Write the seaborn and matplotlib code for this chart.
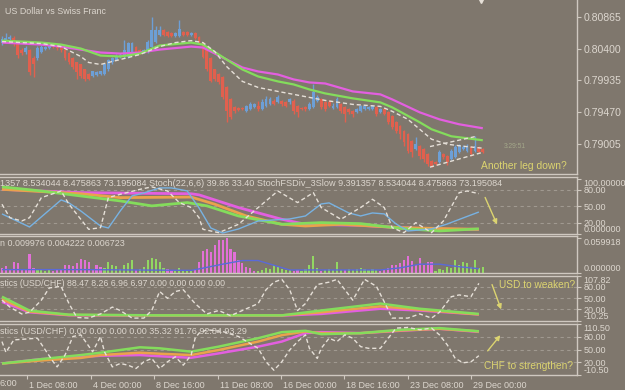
import numpy as np
import pandas as pd
import matplotlib
matplotlib.use("Agg")
import matplotlib.pyplot as plt
import matplotlib.transforms as mtransforms
import seaborn as sns

# ---------------- data (prices in points of 1e-5) ----------------
opens = [80487,80502,80545,80560,80502,80385,80356,80385,80269,80269,
         80356,80400,80415,80444,80429,80429,80385,80342,80269,80197,
         80168,80095,80022,79993,80008,80022,80022,80095,80197,80240,
         80284,80284,80284,80342,80429,80385,80356,80356,80429,80502,
         80603,80676,80647,80633,80589,80589,80647,80647,80603,80633,
         80574,80487,80385,80269,80095,80022,79979,79833,79659,79543,
         79528,79528,79485,79514,79543,79557,79514,79557,79586,79630,
         79615,79630,79615,79615,79630,79557,79528,79543,79514,79543,
         79630,79659,79615,79615,79528,79543,79586,79543,79514,79485,
         79470,79485,79514,79514,79514,79543,79470,79514,79470,79412,
         79325,79267,79194,79150,79049,78932,78976,78932,78860,78758,
         78744,78744,78860,78831,78787,78816,78889,78932,78903,78962,
         78903,78962,78932]
closes = [80545,80560,80574,80473,80313,80342,80415,80051,80168,80415,
          80429,80429,80444,80429,80415,80385,80269,80197,80124,80051,
          79993,79950,79950,80066,80051,80066,80168,80240,80269,80298,
          80313,80385,80487,80487,80356,80356,80385,80502,80676,80676,
          80676,80603,80589,80589,80633,80691,80603,80603,80633,80560,
          80502,80284,80095,79921,79950,79906,79688,79485,79397,79485,
          79499,79514,79557,79586,79586,79514,79615,79659,79659,79586,
          79688,79586,79557,79659,79485,79470,79514,79514,79586,79761,
          79688,79543,79514,79557,79557,79659,79485,79441,79470,79441,
          79514,79557,79557,79543,79557,79441,79514,79441,79325,79252,
          79194,79150,79034,78903,78889,79005,78831,78787,78715,78685,
          78715,78889,78816,78744,78903,78962,78976,78962,78976,78860,
          78976,78889,78889]
highs = [80589,80633,80603,80589,80516,80415,80444,80400,80298,80444,
         80458,80444,80458,80458,80444,80444,80400,80356,80284,80211,
         80182,80109,80037,80080,80066,80080,80182,80255,80284,80327,
         80342,80531,80502,80502,80444,80400,80400,80531,80865,80734,
         80734,80691,80662,80647,80647,80821,80662,80662,80647,80647,
         80589,80502,80400,80284,80109,80037,79993,79848,79674,79557,
         79543,79543,79572,79615,79601,79630,79659,79703,79688,79659,
         79717,79644,79630,79674,79659,79572,79543,79557,79615,79877,
         79717,79674,79630,79644,79601,79688,79601,79557,79528,79499,
         79528,79572,79572,79557,79572,79557,79528,79528,79485,79427,
         79339,79281,79209,79165,79063,79107,78991,78947,78874,78773,
         78758,78918,78874,78845,78932,78991,79005,78991,79005,78976,
         79121,78976,78947]
lows = [80458,80487,80516,80444,80269,80313,80327,80008,79979,80240,
        80342,80385,80400,80415,80385,80356,80240,80168,80095,79950,
        79964,79921,79935,79979,79993,80008,80008,80080,80182,80226,
        80269,80269,80269,80327,80327,80327,80342,80342,80415,80487,
        80589,80589,80574,80574,80574,80574,80589,80589,80589,80545,
        80487,80269,80066,79906,79921,79877,79659,79325,79368,79456,
        79485,79499,79470,79499,79528,79485,79499,79543,79572,79572,
        79601,79557,79543,79586,79441,79397,79499,79485,79499,79528,
        79615,79514,79485,79543,79514,79528,79456,79325,79441,79397,
        79456,79470,79499,79499,79499,79412,79456,79427,79296,79223,
        79165,79078,78976,78874,78816,78918,78787,78744,78685,78671,
        78700,78729,78787,78700,78773,78802,78874,78918,78889,78831,
        78889,78874,78874]

# moving averages (read at sample bars)
ma_slow_x = [0,5,10,15,20,25,30,35,40,48,51,57,61,65,70,74,78,82,89,96,99,106,111,116,122]
ma_slow = [80487,80473,80458,80429,80385,80342,80327,80342,80385,80429,80415,80240,80124,
           80066,80022,79950,79906,79891,79775,79732,79659,79470,79368,79296,79238]
ma_mid_x = [0,5,10,15,20,25,30,35,40,48,51,57,61,65,70,74,78,82,89,96,99,106,109,114,122]
ma_mid = [80516,80502,80487,80458,80400,80298,80284,80327,80444,80487,80458,80240,80095,
          79993,79921,79877,79804,79746,79674,79615,79543,79325,79223,79121,79063]
ma_fast_x = [0,5,10,15,20,22,25,30,35,40,44,48,51,54,57,61,65,70,74,78,82,89,96,99,103,106,109,113,117,122]
ma_fast = [80502,80487,80473,80429,80284,80197,80168,80240,80313,80429,80487,80516,80487,80356,
           80138,79921,79833,79775,79732,79688,79644,79586,79557,79485,79368,79223,79078,79005,78976,78947]
chan_up_x = [108.6, 120.5]
chan_up = [78971, 79122]
chan_lo_x = [108.6, 122.1]
chan_lo = [78671, 78889]

# stochastic panel
st_main_x = [0,7,15,17,20,25,27,30,33,36,40,43,47,50,53,56,60,65,73,77,81,83,86,88,91,94,97,100,103,109,113,117,121]
st_main = [36.4,12.7,61.8,56.4,41.8,14.5,10.9,41.8,69.1,74.5,83.6,83.6,78.2,47.3,10.9,1.8,9.1,
           23.6,27.3,32.7,54.5,56.4,45.5,38.2,32.7,38.2,36.4,18.2,5.5,9.1,18.2,29.1,39.9]
st_fast_x = [0,2,5,7,10,15,17,22,25,27,30,35,38,42,45,48,50,51,55,60,65,70,75,79,81,86,91,94,97,99,102,105,107,109,112,116,118,121]
st_fast = [54,29.6,23.6,29.6,66,78,54,8.5,11.5,66,72,81,85.5,78,57,48,29.6,8.5,2.4,17.6,48,78,57,
           75,48,26.7,48,63,48,11.5,2.4,20.6,11.5,2.4,23.6,75,78,73.2]
st_pink_x = [0,20,48,50,60,71,77,91,101,111,121]
st_pink = [81,75,73,71,48,26.7,17.6,15.8,11.5,8.5,8.5]
st_orange_x = [0,20,30,48,54,62,71,77,86,101,121]
st_orange = [81,73,66,67,54,32.7,17.6,14.5,17.6,11.5,8.5]
st_green_x = [0,10,20,30,38,47,52,60,71,81,91,101,111,121]
st_green = [85.5,78,69,60,51,57,51,32.7,17.6,20.6,18.8,10.3,5.5,9.4]

# histogram panel
hist = [0.0075,0.0113,0.0050,0.0188,0.0156,0.0063,0.0050,0.0313,0.0075,0.0050,
        0.0038,0.0031,0.0050,0.0025,0.0038,0.0063,0.0125,0.0138,0.0113,0.0156,
        0.0238,0.0219,0.0175,0.0063,0.0125,0.0094,0.0075,0.0188,0.0138,0.0113,
        0.0063,0.0138,0.0156,0.0219,0.0050,0.0063,0.0094,0.0219,0.0250,0.0238,
        0.0188,0.0075,0.0063,0.0050,0.0050,0.0075,0.0050,0.0038,0.0025,0.0063,
        0.0188,0.0375,0.0406,0.0344,0.0469,0.0550,0.0563,0.0599,0.0406,0.0344,
        0.0219,0.0156,0.0094,0.0075,0.0031,0.0019,0.0050,0.0075,0.0063,0.0138,
        0.0094,0.0063,0.0050,0.0038,0.0025,0.0038,0.0031,0.0063,0.0125,0.0281,
        0.0075,0.0031,0.0050,0.0063,0.0038,0.0175,0.0050,0.0038,0.0063,0.0050,
        0.0063,0.0075,0.0063,0.0050,0.0063,0.0038,0.0031,0.0050,0.0075,0.0125,
        0.0138,0.0156,0.0219,0.0281,0.0200,0.0138,0.0250,0.0138,0.0188,0.0175,
        0.0031,0.0063,0.0050,0.0094,0.0075,0.0219,0.0125,0.0188,0.0156,0.0094,
        0.0219,0.0075,0.0100]
hist_dir = list("PPPPPPPPPG" "GGGPPPPPPP" "PPPPPPGGGG" "GGGGPGGGGG" "GGPPGGGGGP"
                "PPPPPPPPPP" "PPPPPGGGGG" "GGGGPPGGGG" "GPGGGGGPGG" "GGGGGGPPPP"
                "PPPPPPPPPP" "GGGGGGGGGG" "GGG")
hist_sig_x = [0,20,48,50,56,61,65,69,73,81,96,101,106,111,116,121]
hist_sig = [0.0051,0.0051,0.0038,0.0063,0.0144,0.0206,0.0206,0.0125,0.0045,0.0045,0.0045,
            0.0081,0.0144,0.0144,0.0100,0.0067]

# USD panel
usd_dash_x = [0,2,5,7,10,12,15,17,19,22,25,28,30,33,36,38,40,42,44,46,49,52,55,58,61,65,67,69,71,
              73,75,77,80,83,85,87,89,92,95,97,99,103,106,109,111,114,116,119,121]
usd_dash = [44.5,26.3,8.3,12.6,44.5,76.5,80.8,35.5,-1,-2.6,8.3,26.3,17.3,-2.6,-2.6,17.3,67.2,49.2,
            67.2,71.8,35.5,8.3,17.3,3.6,17.3,35.5,71.8,91.7,99,71.8,17.3,35.5,85.5,91.7,99,71.8,
            44.5,99,80.8,39.9,-2.6,-2.6,8.3,-2.6,12.6,53.5,58.2,53.5,88.5]
usd_x = [0,7,17,40,71,81,96,106,121]
usd_green = [53.5,17,6.4,4.5,4.5,17.3,35.5,21.9,8.3]
usd_orange = [47,14.5,5.5,4.5,4.5,12.6,28.2,19.5,7.0]
usd_pink = [39.9,12.6,5,4,4,8.3,21.9,17.3,7.0]

# CHF panel
chf_dash_x = [0,1,3,9,11,13,14,16,18,20,23,25,26,28,30,32,34,36,38,40,42,44,46,48,49,50,52,56,60,
              65,67,69,71,73,75,77,78,80,81,83,85,87,89,91,93,96,98,100,103,106,109,111,113,115,117,119,121]
chf_dash = [68.8,43.2,72.8,76.8,48.8,20.8,8.8,36.8,80.8,84.8,44.8,80.8,44.8,8.8,16.8,12.8,4.8,20.8,
            28.8,4.8,20.8,32.8,12.8,36.8,76.8,88.8,96.8,92.8,80.8,52.8,20.8,0.8,20.8,48.8,68.8,84.8,
            52.8,28.8,52.8,76.8,68.8,84.8,76.8,56.8,52.8,52.8,76.8,100.8,102.4,96.8,100.8,84.8,60.8,
            28.8,18.4,20.8,35.3]
chf_x = [0,10,20,25,35,40,48,55,65,71,77,81,91,101,111,121]
chf_green = [16.8,27.2,36.8,42.4,55.2,52.8,44.8,56.8,76.8,91.2,94.4,86.4,88.8,96.8,100.8,93.3]
chf_orange = [16.8,24,30,36.8,42.4,40,36.8,48.8,68.8,84,92.8,88.8,88.8,95.2,99.2,92.8]
chf_pink = [16.8,27.2,32,35.2,36.8,34,30.4,40.8,56.8,68.8,88.8,91.2,88.8,94.4,99.2,91.8]

price_ticks = [0.80865, 0.80400, 0.79935, 0.79470, 0.79005]
x_tick_pos = [6.4, 22.5, 38.6, 54.7, 70.8, 86.8, 102.9, 118.9]
x_tick_labels = ["1 Dec 08:00", "4 Dec 00:00", "8 Dec 16:00", "11 Dec 08:00",
                 "16 Dec 00:00", "18 Dec 16:00", "23 Dec 08:00", "29 Dec 00:00"]

# ---------------- style ----------------
BG = "#7f776d"
FG = "#dcd6ce"
SPINE = "#cfc8c0"
GRID = "#a09990"
UP = "#6d9fd6"
DN = "#e1604e"
MAG = "#e35fe0"
GRN = "#84dc5c"
ORG = "#eaa24c"
BLU = "#78b2e2"
DASH = "#e6e0d8"
YEL = "#dcd470"
HPINK = "#e270d8"
HGRN = "#92d862"

sns.set_theme(style="dark", rc={"axes.facecolor": BG, "figure.facecolor": BG,
                                 "savefig.facecolor": BG, "axes.grid": False})
plt.rcParams["font.family"] = ["Liberation Sans", "DejaVu Sans"]

W, H = 625, 390
fig = plt.figure(figsize=(6.25, 3.9), dpi=100)


def rect(t, b):
    return [0, 1 - b / H, 577 / W, (b - t) / H]


ax1 = fig.add_axes(rect(0, 174))
ax2 = fig.add_axes(rect(177, 234))
ax3 = fig.add_axes(rect(236, 273))
ax4 = fig.add_axes(rect(276, 321))
ax5 = fig.add_axes(rect(324, 375))
axes = [ax1, ax2, ax3, ax4, ax5]

XL = (-0.5, 145.9)
for ax in axes:
    ax.set_facecolor(BG)
    ax.set_xlim(*XL)
    ax.spines["left"].set_visible(False)
    for s in ("top", "bottom", "right"):
        ax.spines[s].set_color(SPINE)
        ax.spines[s].set_linewidth(1.0)
    ax.tick_params(axis="y", which="both", left=False, labelleft=False, right=True,
                   labelright=True, direction="out", length=3, width=0.8,
                   color=SPINE, labelcolor=FG, pad=1.5)
    ax.tick_params(axis="x", bottom=False, labelbottom=False)
    ax.set_xlabel("")
    ax.set_ylabel("")
ax1.spines["top"].set_visible(False)

# ---------------- price panel ----------------
df = pd.DataFrame({"i": np.arange(len(opens)), "o": np.array(opens) / 1e5,
                   "c": np.array(closes) / 1e5, "h": np.array(highs) / 1e5,
                   "l": np.array(lows) / 1e5})
up = df["c"] >= df["o"]
cols = np.where(up, UP, DN)
ax1.vlines(df["i"], df["l"], df["h"], colors=cols, lw=1.0, zorder=2)
body = np.maximum((df["c"] - df["o"]).abs(), 0.00002)
ax1.bar(df["i"], body, bottom=np.minimum(df["o"], df["c"]), width=0.72,
        color=cols, linewidth=0, zorder=3)


def line(ax, xs, ys, color, lw, dashed=False, scale=1.0, z=4):
    sns.lineplot(x=np.asarray(xs, float), y=np.asarray(ys, float) / scale, ax=ax,
                 color=color, linewidth=lw, estimator=None, zorder=z)
    ln = ax.lines[-1]
    if dashed:
        ln.set_dashes([3, 2])
    ln.set_solid_capstyle("butt")
    return ln


line(ax1, ma_slow_x, ma_slow, MAG, 1.6, scale=1e5)
line(ax1, ma_mid_x, ma_mid, GRN, 1.6, scale=1e5)
line(ax1, ma_fast_x, ma_fast, DASH, 1.0, dashed=True, scale=1e5, z=5)
line(ax1, chan_up_x, chan_up, DASH, 1.0, dashed=True, scale=1e5, z=5)
line(ax1, chan_lo_x, chan_lo, DASH, 1.0, dashed=True, scale=1e5, z=5)

ax1.set_ylim(0.78571, 0.81108)
ax1.set_yticks(price_ticks)
ax1.set_yticklabels([f"{v:.5f}" for v in price_ticks])
ax1.tick_params(axis="y", labelsize=7.6)
ax1.plot([121.6], [0.81108], marker="v", color=DASH, ms=5, clip_on=False, zorder=6)
ax1.text(121.6, 0.78688, "Another leg down?", color=YEL, fontsize=7.4, va="center", ha="left")
ax1.text(127.2, 0.78979, "3:29:51", color="#a4a88a", fontsize=4.8, va="center", ha="left")


def osc_ticks(ax, vals, labels, size=6.5):
    ax.set_yticks(vals)
    ax.set_yticklabels(labels)
    ax.tick_params(axis="y", labelsize=size)
    tl = ax.get_yticklabels()
    tl[0].set_verticalalignment("top")
    tl[-1].set_verticalalignment("bottom")


def grid(ax):
    for v in (80, 50, 20):
        ax.axhline(v, color=GRID, lw=0.8, dashes=[3, 3], zorder=1)


# ---------------- stochastic panel ----------------
grid(ax2)
line(ax2, st_pink_x, st_pink, MAG, 2.0)
line(ax2, st_orange_x, st_orange, ORG, 2.0)
line(ax2, st_green_x, st_green, GRN, 2.0)
line(ax2, st_main_x, st_main, BLU, 1.0, z=5)
line(ax2, st_fast_x, st_fast, DASH, 1.0, dashed=True, z=5)
ax2.set_ylim(0, 103.4)
osc_ticks(ax2, [100, 80, 50, 20, 0], ["100.000000", "80.00", "50.00", "20.00", "0.000000"])
ax2.annotate("", xy=(125.9, 12.7), xytext=(122.3, 70.9),
             arrowprops=dict(arrowstyle="-|>", color=YEL, lw=1.0, mutation_scale=7),
             annotation_clip=False)

# ---------------- histogram panel ----------------
hcols = [HPINK if d == "P" else HGRN for d in hist_dir]
ax3.bar(np.arange(len(hist)), hist, width=0.55, color=hcols, linewidth=0, zorder=2)
line(ax3, hist_sig_x, hist_sig, "#5a6ad8", 1.0)
ax3.set_ylim(-0.0007, 0.0625)
osc_ticks(ax3, [0.059918, 0.0], ["0.059918", "0.000000"])

# ---------------- USD panel ----------------
grid(ax4)
line(ax4, usd_x, usd_pink, MAG, 1.8)
line(ax4, usd_x, usd_orange, ORG, 1.8)
line(ax4, usd_x, usd_green, GRN, 1.8)
line(ax4, usd_dash_x, usd_dash, DASH, 1.0, dashed=True, z=5)
ax4.set_ylim(-10.26, 107.83)
osc_ticks(ax4, [107.82, 80, 50, 20, -10.25], ["107.82", "80.00", "50.00", "20.00", "-10.25"])
ax4.annotate("", xy=(126.9, 13.4), xytext=(124.1, 92.1),
             arrowprops=dict(arrowstyle="-|>", color=YEL, lw=1.0, mutation_scale=7),
             annotation_clip=False)
ax4.text(126.1, 84.2, "USD to weaken?", color=YEL, fontsize=7.3, va="center", ha="left")

# ---------------- CHF panel ----------------
grid(ax5)
line(ax5, chf_x, chf_pink, MAG, 1.8)
line(ax5, chf_x, chf_orange, ORG, 1.8)
line(ax5, chf_x, chf_green, GRN, 1.8)
line(ax5, chf_dash_x, chf_dash, DASH, 1.0, dashed=True, z=5)
ax5.set_ylim(-10.51, 110.51)
osc_ticks(ax5, [110.5, 80, 50, 20, -10.5], ["110.50", "80.00", "50.00", "20.00", "-10.50"])
ax5.annotate("", xy=(126.9, 89.1), xytext=(122.8, 41.7),
             arrowprops=dict(arrowstyle="-|>", color=YEL, lw=1.0, mutation_scale=7),
             annotation_clip=False)
ax5.text(122.3, 10.9, "CHF to strengthen?", color=YEL, fontsize=7.3, va="center", ha="left")

ax5.tick_params(axis="x", bottom=True, labelbottom=True, direction="out", length=3,
                width=0.8, color=SPINE, labelcolor=FG, labelsize=6.5, pad=1.5)
ax5.set_xticks(x_tick_pos)
ax5.set_xticklabels(x_tick_labels, ha="left")
off = mtransforms.ScaledTranslation(2 / 100, 0, fig.dpi_scale_trans)
for lab in ax5.get_xticklabels():
    lab.set_transform(lab.get_transform() + off)


# ---------------- header texts ----------------
def fx(p):
    return p / W


def fy(p):
    return 1 - p / H


fig.text(fx(5), fy(11), "US Dollar vs Swiss Franc", color=FG, fontsize=6.4, va="center", ha="left")
fig.text(fx(0), fy(184),
         "1357 8.534044 8.475863 73.195084 Stoch(22,6,6) 39.86 33.40 StochFSDiv_3Slow "
         "9.391357 8.534044 8.475863 73.195084", color=FG, fontsize=6.6, va="center", ha="left")
fig.text(fx(0), fy(243), "n 0.009976 0.004222 0.006723", color=FG, fontsize=6.4,
         va="center", ha="left")
fig.text(fx(0), fy(283), "stics (USD/CHF) 88.47 8.26 6.96 6.97 0.00 0.00 0.00 0.00",
         color=FG, fontsize=6.3, va="center", ha="left")
fig.text(fx(0), fy(331), "stics (USD/CHF) 0.00 0.00 0.00 0.00 35.32 91.76 92.84 93.29",
         color=FG, fontsize=6.5, va="center", ha="left")
fig.text(fx(0), fy(383), "6:00", color=FG, fontsize=6.5, va="center", ha="left")

fig.savefig("out.png", dpi=100, facecolor=BG)
